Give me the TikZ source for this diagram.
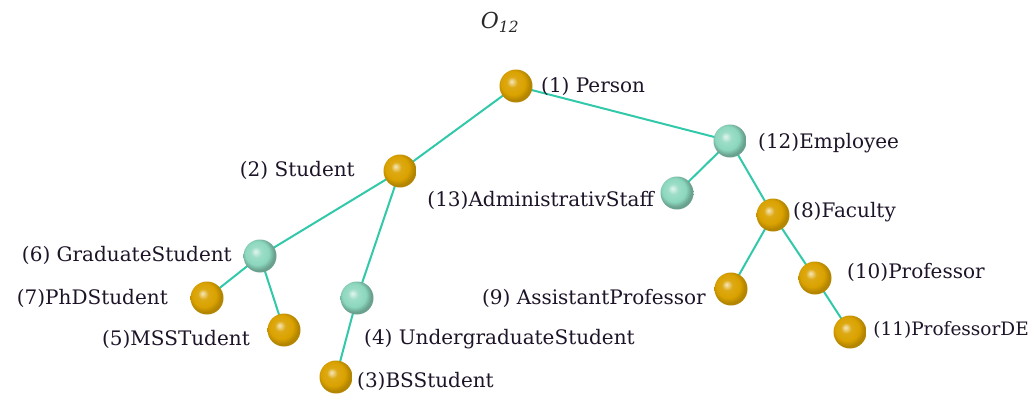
\documentclass[tikz,border=0pt]{standalone}
\usepackage{fontspec}
\setmainfont{DejaVu Serif}
\definecolor{goldc}{RGB}{218,162,0}
\definecolor{tealc}{RGB}{140,215,190}
\definecolor{edgec}{RGB}{50,200,170}
\pgfdeclareradialshading{goldball}{\pgfpoint{-7bp}{7bp}}{color(0bp)=(goldc!25!white); color(8bp)=(goldc!92!white); color(18bp)=(goldc); color(25bp)=(goldc!82!black); color(50bp)=(goldc!82!black)}
\pgfdeclareradialshading{tealball}{\pgfpoint{-7bp}{7bp}}{color(0bp)=(tealc!25!white); color(8bp)=(tealc!85!white); color(18bp)=(tealc); color(25bp)=(tealc!75!black); color(50bp)=(tealc!75!black)}
\begin{document}
\begin{tikzpicture}[x=1pt,y=-1pt,
  gold/.style={circle,minimum size=33pt,inner sep=0pt,shading=goldball},
  teal/.style={circle,minimum size=33pt,inner sep=0pt,shading=tealball},
  edge/.style={draw=edgec,line width=2pt},
  lbl/.style={font=\fontsize{20}{22}\selectfont,inner sep=0pt,text={rgb,255:red,30;green,20;blue,40}}]
\useasboundingbox (0,0) rectangle (1032,394);
% coordinates for ball centres
\coordinate (cP) at (516,86);
\coordinate (cE) at (730,141);
\coordinate (cS) at (400,171);
\coordinate (cA) at (677,193);
\coordinate (cF) at (773,215);
\coordinate (cG) at (260,256);
\coordinate (cU) at (357,298);
\coordinate (cPh) at (207,298);
\coordinate (cM) at (284,330);
\coordinate (cB) at (336,377);
\coordinate (cAP) at (731,289);
\coordinate (cPr) at (815,278);
\coordinate (cPD) at (850,332);
% edges
\draw[edge] (cP) -- (cS);
\draw[edge] (cP) -- (cE);
\draw[edge] (cE) -- (cA);
\draw[edge] (cE) -- (cF);
\draw[edge] (cS) -- (cG);
\draw[edge] (cS) -- (cU);
\draw[edge] (cG) -- (cPh);
\draw[edge] (cG) -- (cM);
\draw[edge] (cU) -- (cB);
\draw[edge] (cF) -- (cAP);
\draw[edge] (cF) -- (cPr);
\draw[edge] (cPr) -- (cPD);
% balls
\node[gold] (P) at (cP) {};
\node[teal] (E) at (cE) {};
\node[gold] (S) at (cS) {};
\node[teal] (A) at (cA) {};
\node[gold] (F) at (cF) {};
\node[teal] (G) at (cG) {};
\node[teal] (U) at (cU) {};
\node[gold] (Ph) at (cPh) {};
\node[gold] (M) at (cM) {};
\node[gold] (B) at (cB) {};
\node[gold] (AP) at (cAP) {};
\node[gold] (Pr) at (cPr) {};
\node[gold] (PD) at (cPD) {};
% labels
\node[lbl,anchor=west] (tP) at (541,86) {(1) Person};
\node[lbl,anchor=west] (tE) at (758,143) {(12)Employee};
\node[lbl,anchor=east] (tS) at (355,170) {(2) Student};
\node[lbl,anchor=east] (tA) at (654,200) {(13)AdministrativStaff};
\node[lbl,anchor=west] (tF) at (793,212) {(8)Faculty};
\node[lbl,anchor=east] (tG) at (232,255) {(6) GraduateStudent};
\node[lbl,anchor=east] (tPh) at (168,298) {(7)PhDStudent};
\node[lbl,anchor=east] (tM) at (250,339) {(5)MSSTudent};
\node[lbl,anchor=west] (tU) at (364,339) {(4) UndergraduateStudent};
\node[lbl,anchor=west] (tB) at (357,381) {(3)BSStudent};
\node[lbl,anchor=east] (tAP) at (706,298) {(9) AssistantProfessor};
\node[lbl,anchor=west] (tPr) at (847,272) {(10)Professor};
\node[lbl,anchor=east,font=\fontsize{18.5}{22}\selectfont] (tPD) at (1029,330) {(11)ProfessorDE};
\node[font=\fontsize{22}{24}\selectfont\itshape,text={rgb,255:red,40;green,40;blue,40},inner sep=0pt] (title) at (500,22) {O\textsubscript{12}};
\end{tikzpicture}
\end{document}
